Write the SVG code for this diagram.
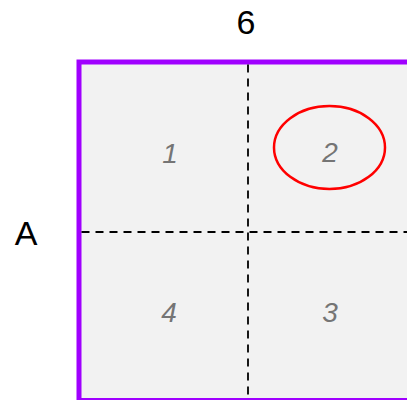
<svg xmlns="http://www.w3.org/2000/svg" width="407" height="400" viewBox="0 0 407 400">
<style>
.lbl{font-family:"Liberation Sans",Arial,sans-serif;font-size:34px;fill:#000;text-anchor:middle}
.cell{font-family:"Liberation Sans",Arial,sans-serif;font-size:28px;font-style:italic;fill:#757575;text-anchor:middle}
.div{stroke:#000;stroke-width:1.8;stroke-dasharray:8 6;fill:none}
</style>
<g id="grid">
<rect x="79" y="62" width="340" height="338.5" fill="#f2f2f2" stroke="#a000ff" stroke-width="5"/>
</g>
<g id="connectors">
<line class="div" x1="248" y1="64.5" x2="248" y2="400"/>
<line class="div" x1="81.5" y1="232" x2="407" y2="232"/>
</g>
<g id="header-6"><text class="lbl" x="246" y="34">6</text></g>
<g id="header-A"><text class="lbl" x="26" y="245">A</text></g>
<g id="cell-1"><text class="cell" x="170" y="163">1</text></g>
<g id="cell-2">
<ellipse cx="329.5" cy="147.5" rx="55.5" ry="41.5" fill="none" stroke="#ff0000" stroke-width="2.5"/>
<text class="cell" x="330" y="162">2</text>
</g>
<g id="cell-4"><text class="cell" x="169" y="322">4</text></g>
<g id="cell-3"><text class="cell" x="330" y="322">3</text></g>
</svg>
